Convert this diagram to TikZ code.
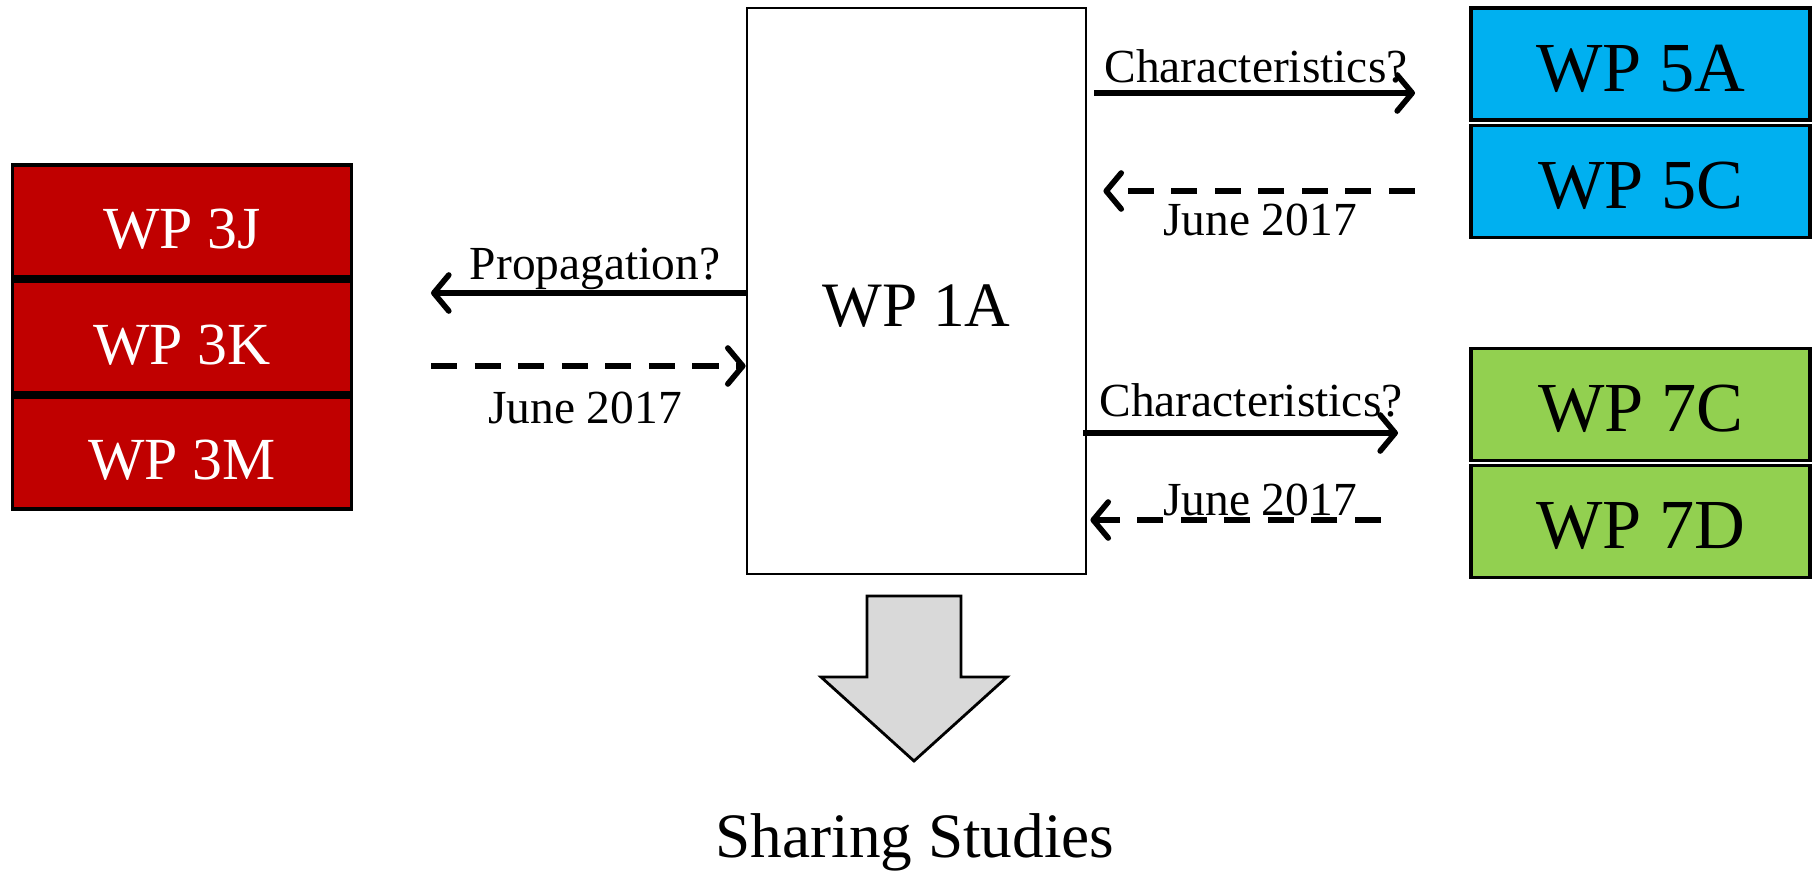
\documentclass[tikz,border=0pt]{standalone}
\usepackage{fontspec}
\setmainfont{Liberation Serif}
\usetikzlibrary{positioning,arrows.meta}
\definecolor{wpred}{HTML}{C00000}
\definecolor{wpblue}{HTML}{00B0F0}
\definecolor{wpgreen}{HTML}{92D050}
\definecolor{wpgrey}{HTML}{D9D9D9}
\tikzstyle{wpbox} = [rectangle, minimum width=3.39cm, minimum height=1.12cm, text centered, draw=black, line width=0.9pt, inner sep=0pt, text depth=0pt]
\tikzstyle{redbox} = [wpbox, fill=wpred, text=white, line width=1.1pt, font=\fontsize{17}{20}\selectfont, text height=15.5pt]
\tikzstyle{bluebox} = [wpbox, fill=wpblue, font=\fontsize{20}{24}\selectfont, text height=15.5pt]
\tikzstyle{greenbox} = [wpbox, fill=wpgreen, font=\fontsize{20}{24}\selectfont, text height=15.5pt]
\tikzstyle{lbl} = [font=\fontsize{13.5}{16}\selectfont, inner sep=0pt]
\tikzstyle{arrow} = [line width=1.6pt, -{Straight Barb[length=1.5mm,width=3.6mm,round]}]
\tikzstyle{darrow} = [arrow, dash pattern=on 7.4pt off 5pt]
\begin{document}
\begin{tikzpicture}
  \useasboundingbox (0,0) rectangle (18.16,8.71);
  % centre box
  \node (wp1a)[rectangle, draw=black, line width=0.8pt, minimum width=3.39cm, minimum height=5.66cm, font=\fontsize{18}{22}\selectfont, text height=20pt, text depth=0pt] at (9.165,5.80){WP 1A};
  % left stack
  \node (wp3j)[redbox] at (1.82,6.50){WP 3J};
  \node (wp3k)[redbox, below=0pt of wp3j]{WP 3K};
  \node (wp3m)[redbox, below=0pt of wp3k]{WP 3M};
  % right stacks
  \node (wp5a)[bluebox] at (16.405,8.07){WP 5A};
  \node (wp5c)[bluebox, below=0.02cm of wp5a]{WP 5C};
  \node (wp7c)[greenbox] at (16.405,4.665){WP 7C};
  \node (wp7d)[greenbox, below=0.02cm of wp7c]{WP 7D};
  % free ends
  \coordinate (p1) at (4.31,5.78);
  \coordinate (p2) at (4.31,5.05);
  \coordinate (c1) at (14.15,7.78);
  \coordinate (d1) at (14.15,6.80);
  \coordinate (c2) at (13.98,4.38);
  \coordinate (d2) at (13.81,3.51);
  \draw[arrow] (wp1a.west |- p1)--(p1);
  \draw[darrow] (p2)--(wp1a.west |- p2);
  \draw[arrow] ([xshift=0.07cm]wp1a.east |- c1)--(c1);
  \draw[darrow] (d1)--([xshift=0.16cm]wp1a.east |- d1);
  \draw[arrow] ([xshift=-0.04cm]wp1a.east |- c2)--(c2);
  \draw[darrow] (d2)--([xshift=0.03cm]wp1a.east |- d2);
  % labels
  \node (lprop)[lbl] at (5.95,6.02){Propagation?};
  \node (ljune1)[lbl] at (5.85,4.63){June 2017};
  \node (lchar1)[lbl] at (12.56,8.05){Characteristics?};
  \node (ljune2)[lbl] at (12.60,6.51){June 2017};
  \node (lchar2)[lbl] at (12.51,4.71){Characteristics?};
  \node (ljune3)[lbl] at (12.60,3.71){June 2017};
  % output arrow
  \filldraw[fill=wpgrey, draw=black, line width=0.8pt] (8.67,2.75)--(9.61,2.75)--(9.61,1.94)--(10.07,1.94)--(9.14,1.10)--(8.21,1.94)--(8.67,1.94)--cycle;
  \node (share)[anchor=base, font=\fontsize{18}{22}\selectfont, inner sep=0pt] at (9.15,0.14){Sharing Studies};
\end{tikzpicture}
\end{document}
